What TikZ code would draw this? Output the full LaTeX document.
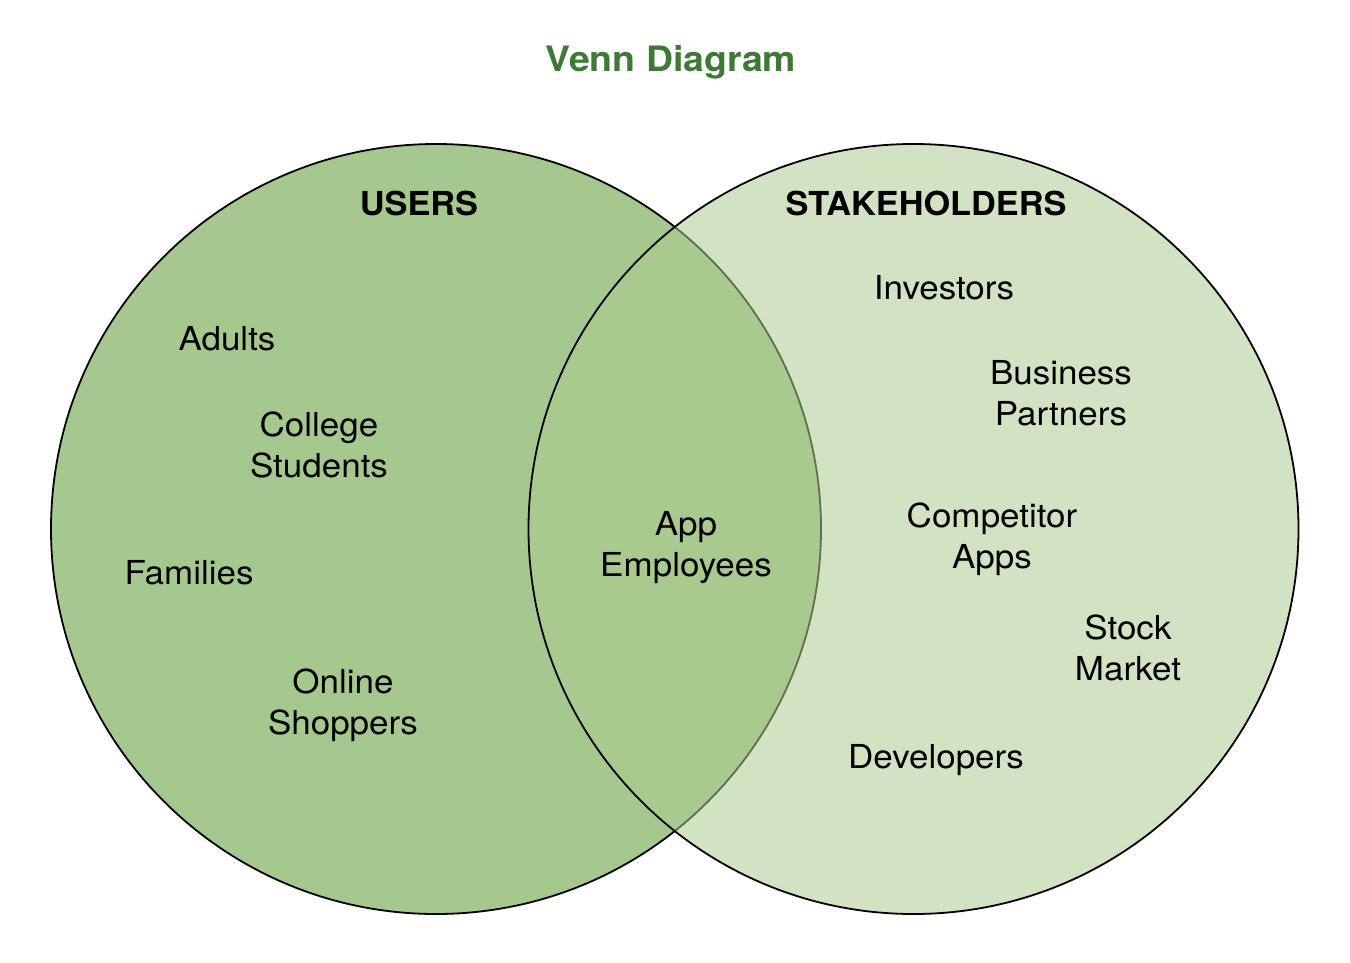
\documentclass[tikz,border=0pt]{standalone}
\usepackage{fontspec}
\setmainfont{TeX Gyre Heros}
\newfontfamily\widesans[FakeStretch=1.06]{TeX Gyre Heros}
\newfontfamily\wideheadsans[FakeStretch=1.04]{TeX Gyre Heros}
\newfontfamily\widetitlesans[FakeStretch=1.07]{TeX Gyre Heros}
\begin{document}
\begin{tikzpicture}[x=1pt,y=-1pt,
  ring/.style={draw=black,line width=1.8pt},
  lbl/.style={font=\widesans\fontsize{33}{41}\selectfont,align=center,inner sep=0pt},
  head/.style={font=\wideheadsans\fontsize{33}{41}\selectfont\bfseries,inner sep=0pt},
]
\definecolor{usersfill}{HTML}{A5C88F}
\definecolor{stakefill}{HTML}{ABCC90}
\definecolor{titlegreen}{HTML}{3E7A35}
\useasboundingbox (0,0) rectangle (1350,962);

% the two sets
\path[ring,fill=usersfill] (436,529) circle[radius=385];
\path[ring,fill=stakefill,fill opacity=0.55] (913.5,529) circle[radius=385];

% title and set names
\node[font=\widetitlesans\fontsize{35}{40}\selectfont\bfseries,text=titlegreen,inner sep=0pt] (title) at (671,62) {Venn Diagram};
\node[head] (users) at (419,203) {USERS};
\node[head] (stake) at (926,203) {STAKEHOLDERS};

% members of USERS only
\node[lbl] (adults) at (227,339) {Adults};
\node[lbl] (college) at (319,445) {College\\Students};
\node[lbl] (families) at (189,573) {Families};
\node[lbl] (online) at (343,705) {Online\\Shoppers};

% shared member
\node[lbl] (app) at (686,548) {App\\Employees};

% members of STAKEHOLDERS only
\node[lbl] (investors) at (944,288) {Investors};
\node[lbl] (business) at (1061,393) {Business\\Partners};
\node[lbl] (competitor) at (992,539) {Competitor\\Apps};
\node[lbl] (stock) at (1128,648) {Stock\\Market};
\node[lbl] (developers) at (936,760) {Developers};
\end{tikzpicture}
\end{document}
